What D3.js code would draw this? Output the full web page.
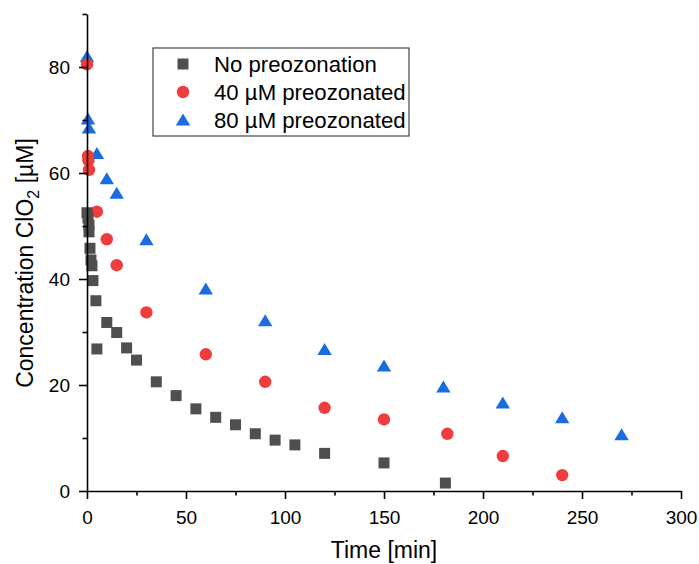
<!DOCTYPE html>
<html>
<head>
<meta charset="utf-8">
<script src="https://cdn.jsdelivr.net/npm/d3@7"></script>
<style>
  body { margin: 0; background: #fff; }
  svg { font-family: "Liberation Sans", Arial, sans-serif; }
</style>
</head>
<body>
<div id="chart"></div>
<script>
const seriesNames = ["No preozonation", "40 \u00b5M preozonated", "80 \u00b5M preozonated"];

const timeNone = [0, 0.5, 1, 1, 1.5, 2, 2.5, 3, 4.5, 5, 10, 15, 20, 25, 35, 45, 55, 65, 75, 85, 95, 105, 120, 150, 181];
const concNone = [52.5, 51.5, 50.2, 48.9, 45.8, 43.6, 42.5, 39.7, 35.9, 26.8, 31.8, 29.9, 27.0, 24.7, 20.6, 18.0, 15.5, 13.9, 12.5, 10.8, 9.6, 8.7, 7.1, 5.3, 1.5];

const time40 = [0, 0.5, 0.7, 1, 5, 10, 15, 30, 60, 90, 120, 150, 182, 210, 240];
const conc40 = [80.5, 63.2, 62.4, 60.6, 52.7, 47.5, 42.6, 33.7, 25.8, 20.6, 15.7, 13.5, 10.8, 6.6, 3.0];

const time80 = [0, 0.5, 1, 5, 10, 15, 30, 60, 90, 120, 150, 180, 210, 240, 270];
const conc80 = [82.0, 70.2, 68.5, 63.7, 58.9, 56.2, 47.4, 38.1, 32.1, 26.7, 23.6, 19.6, 16.6, 13.8, 10.6];

const xTicks = [0, 50, 100, 150, 200, 250, 300];
const xMinorTicks = [25, 75, 125, 175, 225, 275];
const yTicks = [0, 20, 40, 60, 80];
const yMinorTicks = [10, 30, 50, 70, 90];

const width = 699, height = 564;
const margin = { top: 14, right: 18, bottom: 73, left: 87 };

const svg = d3.select('#chart')
  .append('svg')
    .attr('width', width)
    .attr('height', height);

const x = d3.scaleLinear()
  .domain([0, 300])
  .range([margin.left, width - margin.right]);

const y = d3.scaleLinear()
  .domain([0, 90])
  .range([height - margin.bottom, margin.top]);

// markers
const colors = ['#4f4f4f', '#ef3d3d', '#1b6ddd'];
const triPath = 'M0,-6.5L7.2,5.5L-7.2,5.5Z';

function drawMarker(g, kind) {
  if (kind === 0) {
    g.append('rect').attr('x', -5.5).attr('y', -5.5).attr('width', 11).attr('height', 11).attr('fill', colors[0]);
  } else if (kind === 1) {
    g.append('circle').attr('r', 6.2).attr('fill', colors[1]);
  } else {
    g.append('path').attr('d', triPath).attr('fill', colors[2]);
  }
}

const series = [
  { kind: 2, t: time80, c: conc80 },
  { kind: 1, t: time40, c: conc40 },
  { kind: 0, t: timeNone, c: concNone }
];

series.forEach(s => {
  const pts = s.t.map((t, i) => ({ t: t, c: s.c[i] }));
  svg.append('g')
    .selectAll('g')
    .data(pts)
    .join('g')
      .attr('transform', d => `translate(${x(d.t)},${y(d.c)})`)
      .each(function() { drawMarker(d3.select(this), s.kind); });
});

// axes
svg.append('g')
  .attr('transform', `translate(0,${height - margin.bottom})`)
  .call(d3.axisBottom(x).tickValues(xTicks).tickSize(8).tickPadding(12).tickSizeOuter(0));

svg.append('g')
  .attr('transform', `translate(0,${height - margin.bottom})`)
  .call(d3.axisBottom(x).tickValues(xMinorTicks).tickSize(4.5).tickFormat('').tickSizeOuter(0))
  .select('.domain').remove();

svg.append('g')
  .attr('transform', `translate(${margin.left},0)`)
  .call(d3.axisLeft(y).tickValues(yTicks).tickSize(8).tickPadding(9).tickSizeOuter(0));

svg.append('g')
  .attr('transform', `translate(${margin.left},0)`)
  .call(d3.axisLeft(y).tickValues(yMinorTicks).tickSize(4.5).tickFormat('').tickSizeOuter(0))
  .select('.domain').remove();

svg.selectAll('.domain, .tick line')
  .attr('stroke', '#000')
  .attr('stroke-width', 1.6);

svg.selectAll('.tick text')
  .attr('fill', '#000')
  .style('font-size', '19px')
  .style('font-family', '"Liberation Sans", Arial, sans-serif');

// axis titles
svg.append('text')
  .attr('x', (margin.left + width - margin.right) / 2)
  .attr('y', 558)
  .attr('text-anchor', 'middle')
  .style('font-size', '23px')
  .text('Time [min]');

const yTitle = svg.append('text')
  .attr('transform', 'translate(33,263) rotate(-90)')
  .attr('text-anchor', 'middle')
  .style('font-size', '23px');
yTitle.append('tspan').text('Concentration ClO');
yTitle.append('tspan').attr('dy', 6).style('font-size', '16px').text('2');
yTitle.append('tspan').attr('dy', -6).text(' [\u00b5M]');

// legend
const legend = svg.append('g').attr('transform', 'translate(153,48)');
legend.append('rect')
  .attr('width', 256)
  .attr('height', 88)
  .attr('fill', '#fff')
  .attr('stroke', '#444')
  .attr('stroke-width', 1.2);

const legendRows = legend.selectAll('g.row')
  .data(seriesNames)
  .join('g')
    .attr('class', 'row')
    .attr('transform', (d, i) => `translate(0,${16 + i * 28})`);

legendRows.each(function(d, i) {
  const m = d3.select(this).append('g').attr('transform', 'translate(30,0)');
  drawMarker(m, i);
});

legendRows.append('text')
  .attr('x', 61)
  .attr('y', 8)
  .style('font-size', '22.2px')
  .text(d => d);
</script>
</body>
</html>
